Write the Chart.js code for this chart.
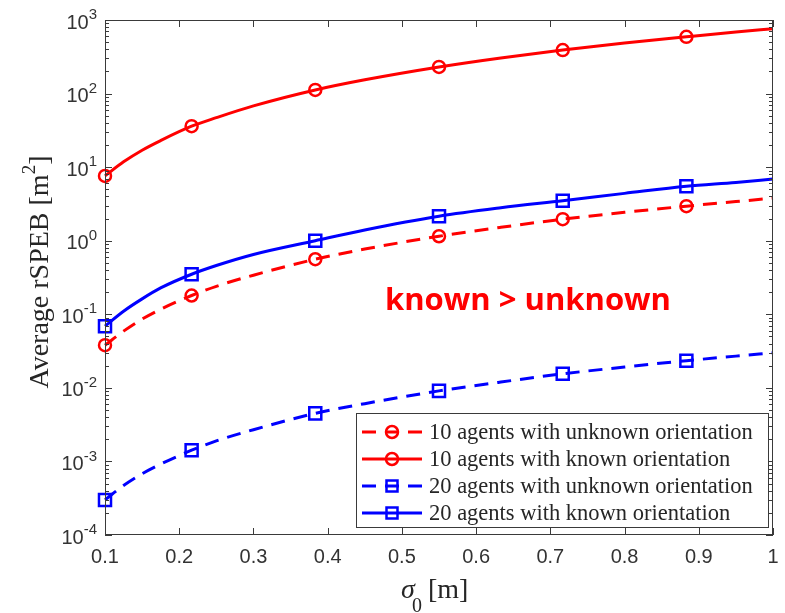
<!DOCTYPE html>
<html lang="en">
<head>
    <meta charset="UTF-8">
    <title>Average rSPEB</title>
    <script src="https://cdn.jsdelivr.net/npm/chart.js"></script>
    <style>
        body {
            margin: 0;
            background: #fff;
        }
        #wrap {
            width: 785px;
            height: 613px;
        }
    </style>
</head>
<body>
<div id="wrap"><canvas id="chart" width="785" height="613"></canvas></div>
<script>
    // sigma_0 sample positions (markers sit on a subset of them)
    const sigma = [0.1, 0.125, 0.15, 0.175, 0.2167, 0.25, 0.3, 0.3833, 0.45, 0.55, 0.6333, 0.7167, 0.8, 0.8833, 0.95, 1.0];
    const markerIdx = [0, 4, 7, 9, 11, 13];

    const unknown10 = [0.038, 0.059, 0.086, 0.117, 0.18, 0.24, 0.34, 0.56, 0.77, 1.15, 1.52, 1.96, 2.43, 2.95, 3.4, 3.8];
    const known10 = [7.6, 11.8, 17, 23, 36, 47, 68, 112, 154, 230, 305, 390, 486, 590, 686, 760];
    const unknown20 = [0.0003, 0.00047, 0.00068, 0.00092, 0.00142, 0.0019, 0.0027, 0.0045, 0.0061, 0.0091, 0.012, 0.0155, 0.0192, 0.0234, 0.027, 0.030];
    const known20 = [0.069, 0.11, 0.162, 0.228, 0.35, 0.46, 0.65, 1.0, 1.4, 2.15, 2.8, 3.5, 4.4, 5.5, 6.2, 6.9];

    const xTicks = [0.1, 0.2, 0.3, 0.4, 0.5, 0.6, 0.7, 0.8, 0.9, 1];
    const yExponents = [-4, -3, -2, -1, 0, 1, 2, 3];

    const labels = [
        '10 agents with unknown orientation',
        '10 agents with known orientation',
        '20 agents with unknown orientation',
        '20 agents with known orientation'
    ];

    const RED = '#ff0000';
    const BLUE = '#0000ff';
    const DASH = [14, 9];
    const SANS = '"Liberation Sans", Arial, sans-serif';
    const SERIF = '"Liberation Serif", "Times New Roman", serif';

    function pts(ys) {
        return sigma.map((x, i) => ({x: x, y: ys[i]}));
    }

    function radii(r) {
        return sigma.map((x, i) => markerIdx.includes(i) ? r : 0);
    }

    function series(label, ys, color, dashed, style) {
        const r = style === 'rect' ? 8.5 : 6;
        return {
            label: label,
            data: pts(ys),
            borderColor: color,
            backgroundColor: 'rgba(0,0,0,0)',
            borderWidth: 3,
            borderDash: dashed ? DASH : [],
            pointStyle: style,
            pointRadius: radii(r),
            pointBorderWidth: 2.5,
            pointBorderColor: color,
            pointBackgroundColor: 'rgba(0,0,0,0)',
            cubicInterpolationMode: 'monotone',
            clip: false
        };
    }

    const datasets = [
        series(labels[0], unknown10, RED, true, 'circle'),
        series(labels[1], known10, RED, false, 'circle'),
        series(labels[2], unknown20, BLUE, true, 'rect'),
        series(labels[3], known20, BLUE, false, 'rect')
    ];

    // MATLAB-style box, inward ticks, 10^n labels, axis titles, legend and note
    const decor = {
        id: 'decor',
        afterDraw(chart) {
            const ctx = chart.ctx;
            const a = chart.chartArea;
            const xs = chart.scales.x;
            const ys = chart.scales.y;
            ctx.save();

            ctx.strokeStyle = '#3a3a3a';
            ctx.lineWidth = 1;
            ctx.strokeRect(a.left + 0.5, a.top + 0.5, a.right - a.left - 1, a.bottom - a.top - 1);

            ctx.beginPath();
            xTicks.forEach(v => {
                const px = Math.round(xs.getPixelForValue(v)) + 0.5;
                ctx.moveTo(px, a.bottom); ctx.lineTo(px, a.bottom - 7);
                ctx.moveTo(px, a.top); ctx.lineTo(px, a.top + 7);
            });
            yExponents.forEach(e => {
                for (let m = 1; m <= 9; m++) {
                    const v = m * Math.pow(10, e);
                    if (v > 1000) break;
                    const py = Math.round(ys.getPixelForValue(v)) + 0.5;
                    const len = m === 1 ? 7 : 4;
                    ctx.moveTo(a.left, py); ctx.lineTo(a.left + len, py);
                    ctx.moveTo(a.right, py); ctx.lineTo(a.right - len, py);
                }
            });
            ctx.stroke();

            // tick labels
            ctx.fillStyle = '#333';
            ctx.font = '20px ' + SANS;
            ctx.textAlign = 'center';
            ctx.textBaseline = 'middle';
            xTicks.forEach(v => {
                ctx.fillText(String(v), xs.getPixelForValue(v), a.bottom + 22);
            });
            ctx.textAlign = 'right';
            yExponents.forEach(e => {
                const py = ys.getPixelForValue(Math.pow(10, e));
                const sup = String(e);
                ctx.font = '15px ' + SANS;
                const sw = ctx.measureText(sup).width;
                ctx.fillText(sup, 97, py - 5);
                ctx.font = '20px ' + SANS;
                ctx.fillText('10', 97 - sw, py + 3);
            });

            // y title
            ctx.save();
            ctx.translate(48, 272);
            ctx.rotate(-Math.PI / 2);
            ctx.fillStyle = '#262626';
            ctx.textBaseline = 'alphabetic';
            ctx.textAlign = 'left';
            const f = '28px ' + SERIF;
            const fs = '19px ' + SERIF;
            ctx.font = f;
            const t1 = 'Average rSPEB [m';
            const w1 = ctx.measureText(t1).width;
            ctx.font = fs;
            const w2 = ctx.measureText('2').width;
            ctx.font = f;
            const w3 = ctx.measureText(']').width;
            const x0 = -(w1 + w2 + w3) / 2;
            ctx.fillText(t1, x0, 0);
            ctx.font = fs;
            ctx.fillText('2', x0 + w1, -13);
            ctx.font = f;
            ctx.fillText(']', x0 + w1 + w2, 0);
            ctx.restore();

            // x title
            ctx.fillStyle = '#262626';
            ctx.textAlign = 'left';
            ctx.textBaseline = 'alphabetic';
            ctx.font = 'italic 28px ' + SERIF;
            ctx.fillText('\u03c3', 401, 598);
            ctx.font = '20px ' + SERIF;
            ctx.fillText('0', 412, 612);
            ctx.font = '28px ' + SERIF;
            ctx.fillText('[m]', 428, 598);

            // legend
            const lx = 356, ly = 413, lw = 412, lh = 114;
            ctx.fillStyle = '#fff';
            ctx.fillRect(lx, ly, lw, lh);
            ctx.strokeStyle = '#3a3a3a';
            ctx.lineWidth = 1;
            ctx.strokeRect(lx + 0.5, ly + 0.5, lw, lh);
            const rowY = [432, 459, 486, 513];
            chart.data.datasets.forEach((ds, i) => {
                const y = rowY[i];
                ctx.strokeStyle = ds.borderColor;
                ctx.lineWidth = 3;
                ctx.setLineDash(ds.borderDash);
                ctx.beginPath();
                ctx.moveTo(362, y); ctx.lineTo(422, y);
                ctx.stroke();
                ctx.setLineDash([]);
                ctx.lineWidth = 2.5;
                ctx.beginPath();
                if (ds.pointStyle === 'rect') {
                    ctx.rect(392 - 5.5, y - 5.5, 11, 11);
                } else {
                    ctx.arc(392, y, 6, 0, Math.PI * 2);
                }
                ctx.stroke();
                ctx.fillStyle = '#262626';
                ctx.font = '22.5px ' + SERIF;
                ctx.textBaseline = 'middle';
                ctx.fillText(ds.label, 429, y + 1);
            });

            // note
            ctx.fillStyle = RED;
            ctx.font = 'bold 31px "Open Sans", "Noto Sans", sans-serif';
            ctx.textBaseline = 'alphabetic';
            ctx.fillText('known > unknown', 385, 310);

            ctx.restore();
        }
    };

    new Chart(document.getElementById('chart'), {
        type: 'line',
        data: {datasets: datasets},
        options: {
            responsive: false,
            animation: false,
            layout: {padding: {left: 105, right: 12, top: 20, bottom: 78}},
            scales: {
                x: {type: 'linear', min: 0.1, max: 1, display: false},
                y: {type: 'logarithmic', min: 1e-4, max: 1e3, display: false}
            },
            plugins: {
                legend: {display: false},
                tooltip: {enabled: false}
            }
        },
        plugins: [decor]
    });
</script>
</body>
</html>
